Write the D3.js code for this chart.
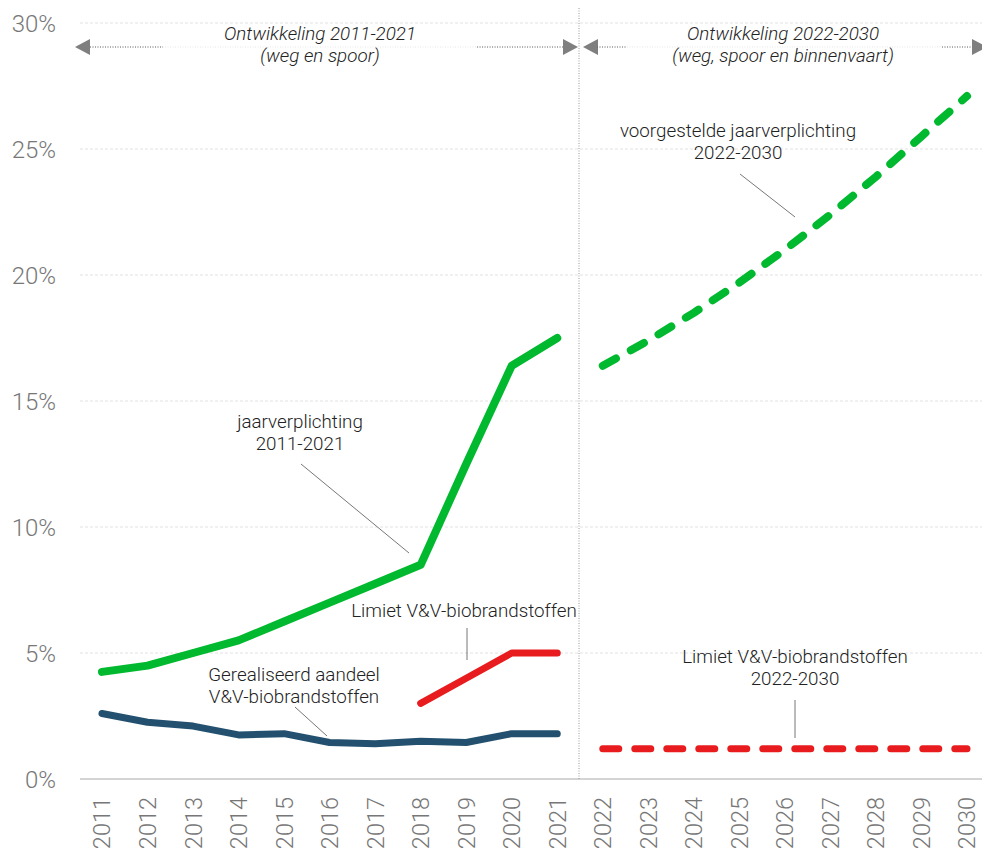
<!DOCTYPE html>
<html>
<head>
<meta charset="utf-8">
<script src="https://cdn.jsdelivr.net/npm/d3@7"></script>
<style>
  body { margin: 0; background: #fff; }
  text { font-family: Roboto, "Open Sans", sans-serif; }
</style>
</head>
<body>
<div id="chart"></div>
<script>
var years = ['2011','2012','2013','2014','2015','2016','2017','2018','2019','2020',
             '2021','2022','2023','2024','2025','2026','2027','2028','2029','2030'];
var yTicks = [0, 5, 10, 15, 20, 25, 30];

// jaarverplichting 2011-2021
var oudYears = ['2011','2012','2013','2014','2015','2016','2017','2018','2019','2020','2021'];
var jaarverplichting = [4.25, 4.5, 5.0, 5.5, 6.25, 7.0, 7.75, 8.5, 12.5, 16.4, 17.5];
var gerealiseerd = [2.6, 2.25, 2.1, 1.75, 1.8, 1.45, 1.4, 1.5, 1.45, 1.8, 1.8];

// limiet 2018-2021
var limietYears = ['2018','2019','2020','2021'];
var limiet = [3.0, 4.0, 5.0, 5.0];

// 2022-2030
var nieuwYears = ['2022','2023','2024','2025','2026','2027','2028','2029','2030'];
var voorgesteld = [16.4, 17.4, 18.5, 19.7, 21.0, 22.4, 23.9, 25.5, 27.1];
var limietNieuw = [1.2, 1.2, 1.2, 1.2, 1.2, 1.2, 1.2, 1.2, 1.2];

var width = 982, height = 849;
var green = '#00b92f', red = '#e81c1f', blue = '#23506e';

var svg = d3.select('#chart').append('svg')
  .attr('width', width)
  .attr('height', height);

var x = d3.scalePoint().domain(years).range([102, 967]);
var y = d3.scaleLinear().domain([0, 30]).range([779, 23]);

// gridlines
svg.append('g').selectAll('line')
  .data(yTicks.filter(function(d) { return d > 0; }))
  .enter().append('line')
  .attr('x1', 80).attr('x2', width)
  .attr('y1', function(d) { return y(d); })
  .attr('y2', function(d) { return y(d); })
  .attr('stroke', '#e2e2e2')
  .attr('stroke-dasharray', '3 2');

svg.append('line')
  .attr('x1', 80).attr('x2', width)
  .attr('y1', y(0)).attr('y2', y(0))
  .attr('stroke', '#d4d4d4').attr('stroke-width', 2);

// y labels
svg.append('g').selectAll('text')
  .data(yTicks)
  .enter().append('text')
  .attr('x', 56)
  .attr('y', function(d) { return y(d); })
  .attr('dy', '0.36em')
  .attr('text-anchor', 'end')
  .style('font-size', '24px')
  .style('font-weight', 300)
  .style('fill', '#777')
  .text(function(d) { return d + '%'; });

// x labels
svg.append('g').selectAll('text')
  .data(years)
  .enter().append('text')
  .attr('transform', function(d) { return 'translate(' + x(d) + ',797) rotate(-90)'; })
  .attr('dy', '0.36em')
  .attr('text-anchor', 'end')
  .style('font-size', '23.5px')
  .style('font-weight', 300)
  .style('fill', '#777')
  .text(function(d) { return d; });

// divider
var divX = (x('2021') + x('2022')) / 2 - 1;
svg.append('line')
  .attr('x1', divX).attr('x2', divX)
  .attr('y1', 8).attr('y2', y(0))
  .attr('stroke', '#999')
  .attr('stroke-dasharray', '1 1.5');

// header arrows
var arrowY = 47;
function arrow(tip, dir) {
  svg.append('path')
    .attr('d', 'M' + tip + ',' + arrowY + 'L' + (tip - dir * 15) + ',' + (arrowY - 8) +
               'L' + (tip - dir * 15) + ',' + (arrowY + 8) + 'Z')
    .attr('fill', '#7f7f7f');
}
function dots(x1, x2, c) {
  svg.append('line')
    .attr('x1', x1).attr('x2', x2)
    .attr('y1', arrowY).attr('y2', arrowY)
    .attr('stroke', c)
    .attr('stroke-dasharray', '1 1.5');
}
var leftTip = x('2011') - 27;
dots(leftTip + 15, divX - 16, '#e6e6e6');
dots(divX + 18, width, '#e6e6e6');
arrow(leftTip, -1);
dots(leftTip + 15, 163, '#666');
dots(477, divX - 16, '#666');
arrow(divX - 1, 1);
arrow(divX + 4, -1);
dots(divX + 18, 627, '#666');
dots(942, width - 10, '#666');
arrow(width + 5, 1);

function label(cx, cy, lines, italic) {
  var t = svg.append('text')
    .attr('text-anchor', 'middle')
    .style('font-size', '18.8px')
    .style('font-weight', 300)
    .style('fill', '#222')
    .style('font-style', italic ? 'italic' : 'normal');
  lines.forEach(function(l, i) {
    t.append('tspan').attr('x', cx).attr('y', cy + i * 22).text(l);
  });
}
label(320, 40, ['Ontwikkeling 2011-2021', '(weg en spoor)'], true);
label(783, 40, ['Ontwikkeling 2022-2030', '(weg, spoor en binnenvaart)'], true);

// lines
var line = d3.line()
  .x(function(d) { return x(d[0]); })
  .y(function(d) { return y(d[1]); });

function series(ys, vals, color, w, dash) {
  svg.append('path')
    .datum(d3.zip(ys, vals))
    .attr('d', line)
    .attr('fill', 'none')
    .attr('stroke', color)
    .attr('stroke-width', w)
    .attr('stroke-linecap', 'round')
    .attr('stroke-linejoin', 'round')
    .attr('stroke-dasharray', dash || null);
}
series(oudYears, gerealiseerd, blue, 7);
series(oudYears, jaarverplichting, green, 8);
series(limietYears, limiet, red, 7);
series(nieuwYears, voorgesteld, green, 8, '15 17');
series(nieuwYears, limietNieuw, red, 7, '16 16');

// annotations
function leader(x1, y1, x2, y2) {
  svg.append('line')
    .attr('x1', x1).attr('y1', y1).attr('x2', x2).attr('y2', y2)
    .attr('stroke', '#777').attr('stroke-width', 1);
}
label(738, 137, ['voorgestelde jaarverplichting', '2022-2030']);
leader(740, 174, 795, 217);
label(300, 428, ['jaarverplichting', '2011-2021']);
leader(301, 464, 409, 553);
label(464, 617, ['Limiet V&V-biobrandstoffen']);
leader(467, 628, 467, 660);
label(294, 681, ['Gerealiseerd aandeel', 'V&V-biobrandstoffen']);
leader(295, 707, 327, 736);
label(795, 663, ['Limiet V&V-biobrandstoffen', '2022-2030']);
leader(795, 700, 795, 738);
</script>
</body>
</html>
